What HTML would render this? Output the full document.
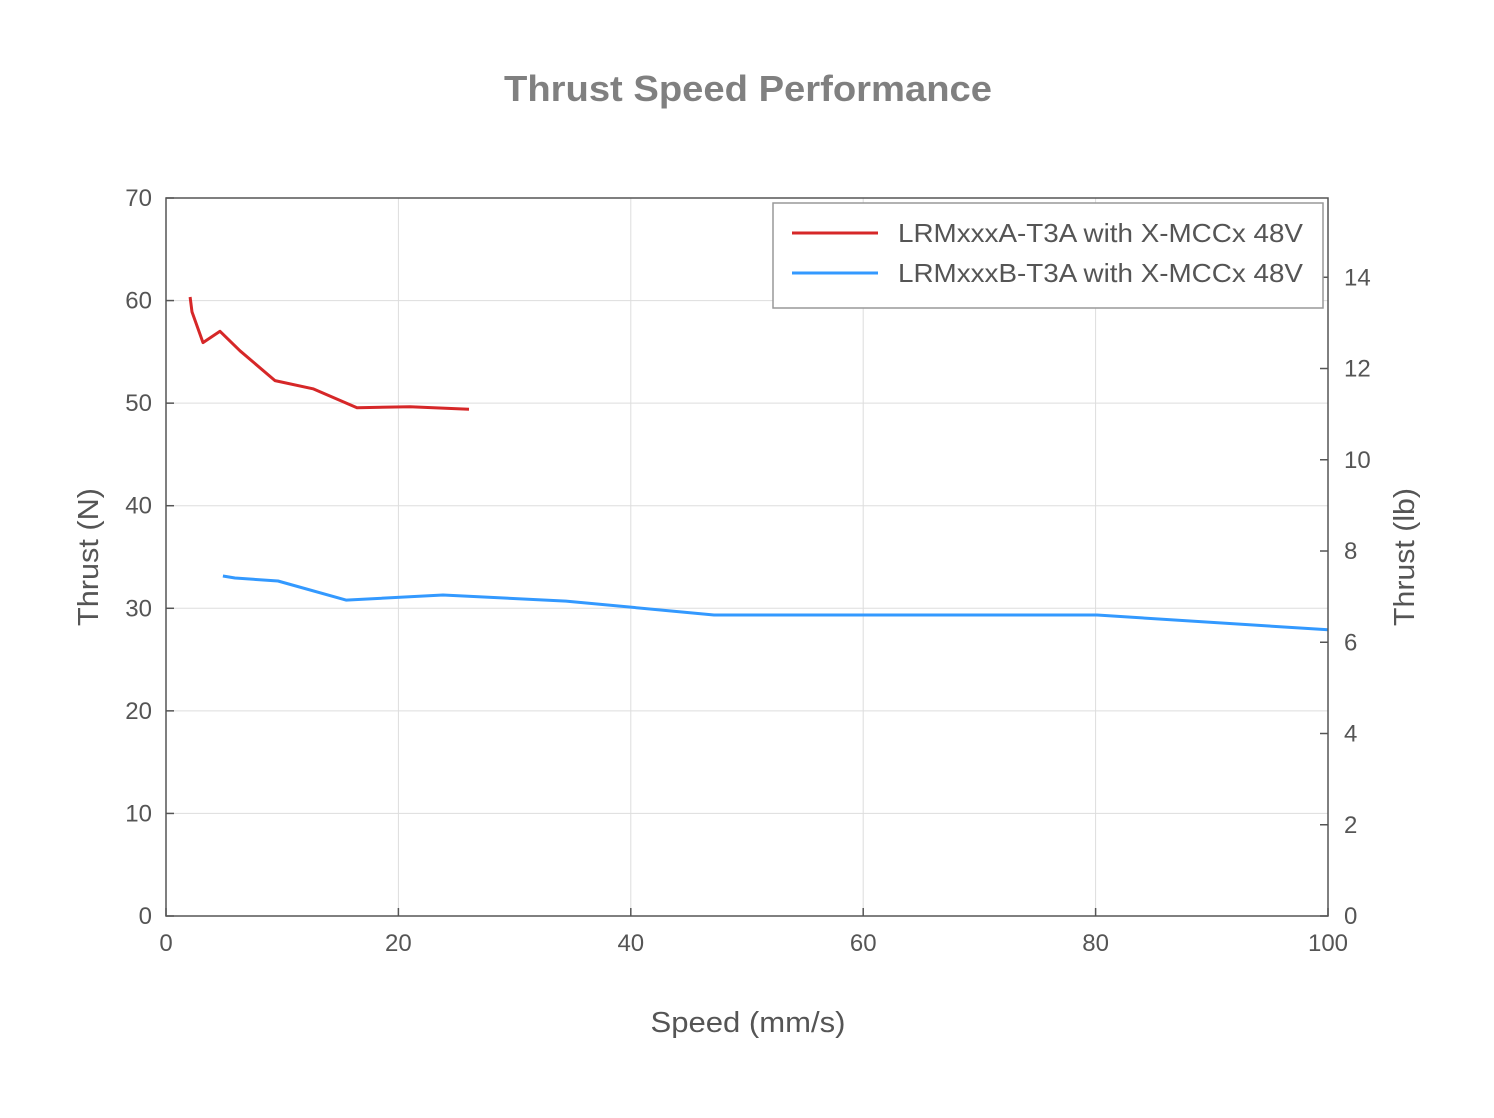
<!DOCTYPE html>
<html><head><meta charset="utf-8"><style>
body{margin:0;background:#fff;}
svg text{font-family:"Liberation Sans",Arial,sans-serif;}
</style></head><body>
<svg id="chart" width="1494" height="1113" xmlns="http://www.w3.org/2000/svg">
<rect width="1494" height="1113" fill="#fff"/>
<text x="748" y="101" text-anchor="middle" font-size="36" font-weight="bold" fill="#808080" textLength="488" lengthAdjust="spacingAndGlyphs">Thrust Speed Performance</text>
<g id="grid"></g>
<g id="series"></g>
<g id="axes"></g>
<text x="748" y="1032" text-anchor="middle" font-size="29" fill="#555" textLength="195" lengthAdjust="spacingAndGlyphs">Speed (mm/s)</text>
<text transform="translate(98,557) rotate(-90)" text-anchor="middle" font-size="29" fill="#555" textLength="138" lengthAdjust="spacingAndGlyphs">Thrust (N)</text>
<text transform="translate(1414,557) rotate(-90)" text-anchor="middle" font-size="29" fill="#555" textLength="138" lengthAdjust="spacingAndGlyphs">Thrust (lb)</text>
<g>
<rect x="773" y="203" width="550" height="105" fill="#fff" stroke="#999" stroke-width="1.5"/>
<line x1="792" y1="233" x2="878" y2="233" stroke="#d62728" stroke-width="3"/>
<text x="898" y="242" font-size="26" fill="#555" textLength="405" lengthAdjust="spacingAndGlyphs">LRMxxxA-T3A with X-MCCx 48V</text>
<line x1="792" y1="273" x2="878" y2="273" stroke="#3399ff" stroke-width="3"/>
<text x="898" y="282" font-size="26" fill="#555" textLength="405" lengthAdjust="spacingAndGlyphs">LRMxxxB-T3A with X-MCCx 48V</text>
</g>
</svg>
<script>
const xTicks=[0,20,40,60,80,100];
const yTicks=[0,10,20,30,40,50,60,70];
const lbTicks=[0,2,4,6,8,10,12,14];
const speedA=[2.07,2.24,3.18,4.65,6.37,9.38,12.65,16.44,21.0,26.08];
const thrustA=[60.35,58.9,55.9,57.0,55.1,52.2,51.4,49.55,49.65,49.4];
const speedB=[4.9,5.94,9.64,15.49,23.84,34.42,47.16,80.12,100];
const thrustB=[33.15,32.95,32.66,30.8,31.3,30.7,29.35,29.35,27.9];
const L=166,R=1328,T=198,B=916;
const xs=v=>L+(v-0)/(100-0)*(R-L);
const ys=v=>B-v/70*(B-T);
const ns="http://www.w3.org/2000/svg";
function mk(tag,attrs,parent,text){const e=document.createElementNS(ns,tag);for(const k in attrs)e.setAttribute(k,attrs[k]);if(text!==undefined)e.textContent=text;parent.appendChild(e);return e;}
const grid=document.getElementById('grid'),axes=document.getElementById('axes'),ser=document.getElementById('series');
xTicks.forEach(t=>{
 const g=mk('line',{x1:xs(t),x2:xs(t),y1:T,y2:B,stroke:'#ddd','stroke-width':1},grid);
 
 
 mk('line',{x1:xs(t),x2:xs(t),y1:B,y2:B-8,stroke:'#555','stroke-width':1.5},axes);
 const tx=mk('text',{x:xs(t),y:B+35,'text-anchor':'middle','font-size':24,fill:'#555'},axes,String(t));
 
 
});
yTicks.forEach(t=>{
 const g=mk('line',{x1:L,x2:R,y1:ys(t),y2:ys(t),stroke:'#ddd','stroke-width':1},grid);
 
 
 mk('line',{x1:L,x2:L+8,y1:ys(t),y2:ys(t),stroke:'#555','stroke-width':1.5},axes);
 const tx=mk('text',{x:L-14,y:ys(t)+8,'text-anchor':'end','font-size':24,fill:'#555'},axes,String(t));
 
 
});
lbTicks.forEach(t=>{
 const y=ys(t*4.448);
 mk('line',{x1:R,x2:R-8,y1:y,y2:y,stroke:'#555','stroke-width':1.5},axes);
 const tx=mk('text',{x:R+16,y:y+8,'text-anchor':'start','font-size':24,fill:'#555'},axes,String(t));
 
 
});
const frame=mk('rect',{x:L,y:T,width:R-L,height:B-T,fill:'none',stroke:'#555','stroke-width':1.5},axes);


function line(xv,yv,color,name){
 const d=xv.map((x,i)=>(i?'L':'M')+xs(x).toFixed(1)+','+ys(yv[i]).toFixed(1)).join(' ');
 const p=mk('path',{d:d,fill:'none',stroke:color,'stroke-width':3,'stroke-linejoin':'round'},ser);
 
 
}
line(speedA,thrustA,'#d62728','series-lrmxxxa-line');
line(speedB,thrustB,'#3399ff','series-lrmxxxb-line');
</script>
</body></html>
